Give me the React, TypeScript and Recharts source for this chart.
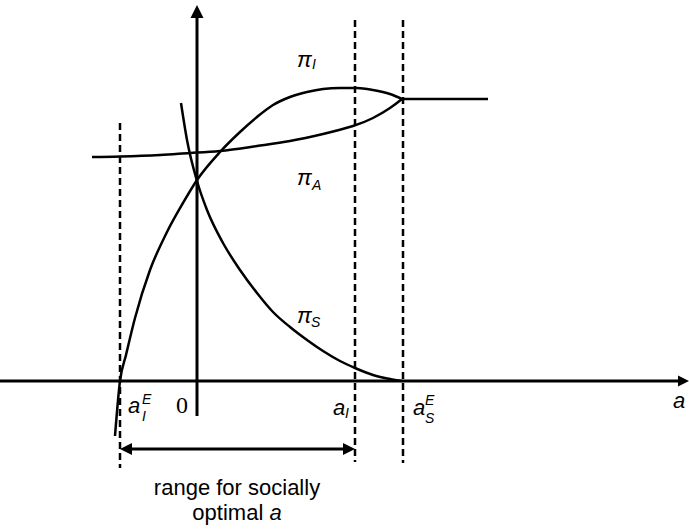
import React from "react";
import { ComposedChart, Line, XAxis, YAxis, ReferenceLine, ReferenceDot } from "recharts";

// curve points (x = effort a, y = payoff)
const piI = [
  { x: -8.2, y: -5.5 }, { x: -7.7, y: 0 }, { x: -7.1, y: 2.6 }, { x: -6.2, y: 6.3 },
  { x: -4.7, y: 11.1 }, { x: -3.0, y: 14.9 }, { x: -1.4, y: 17.8 }, { x: 0, y: 20.1 },
  { x: 2.3, y: 22.9 }, { x: 4.3, y: 24.9 }, { x: 6.0, y: 26.4 }, { x: 7.6, y: 27.6 },
  { x: 9.3, y: 28.4 }, { x: 11.0, y: 28.9 }, { x: 12.6, y: 29.2 }, { x: 14.3, y: 29.3 },
  { x: 16.0, y: 29.3 }, { x: 17.6, y: 29.1 }, { x: 19.3, y: 28.7 }, { x: 20.5, y: 28.2 },
];
const piA = [
  { x: -10.5, y: 22.4 }, { x: -7.7, y: 22.45 }, { x: -3.7, y: 22.6 }, { x: -0.7, y: 22.8 },
  { x: 2.3, y: 23.0 }, { x: 6.0, y: 23.5 }, { x: 9.3, y: 24.0 }, { x: 12.6, y: 24.7 },
  { x: 15.6, y: 25.5 }, { x: 17.6, y: 26.3 }, { x: 19.3, y: 27.3 }, { x: 20.5, y: 28.2 },
];
const piS = [
  { x: -1.6, y: 27.8 }, { x: -1.0, y: 24.1 }, { x: 0, y: 20.0 }, { x: 1.0, y: 17.1 },
  { x: 2.6, y: 13.8 }, { x: 4.3, y: 11.1 }, { x: 6.0, y: 8.8 }, { x: 7.6, y: 6.9 },
  { x: 9.3, y: 5.4 }, { x: 11.0, y: 4.1 }, { x: 12.6, y: 3.0 }, { x: 14.3, y: 2.0 },
  { x: 15.8, y: 1.3 }, { x: 17.6, y: 0.6 }, { x: 19.3, y: 0.2 }, { x: 20.5, y: 0 },
];
const flat = [{ x: 20.5, y: 28.2 }, { x: 29.1, y: 28.2 }];

const aIE = -7.7;
const aI = 15.8;
const aSE = 20.6;

const FONT = "'Liberation Sans', Arial, sans-serif";

function ArrowSeg(props: any) {
  const { x1, y1, x2, y2, startHead, endHead, width = 2.5, head = 12, half = 6 } = props;
  const dx = x2 - x1;
  const dy = y2 - y1;
  const len = Math.sqrt(dx * dx + dy * dy) || 1;
  const ux = dx / len;
  const uy = dy / len;
  const px = -uy;
  const py = ux;
  const tri = (tx: number, ty: number, dirx: number, diry: number) => {
    const bx = tx - dirx * head;
    const by = ty - diry * head;
    return `${tx},${ty} ${bx + px * half},${by + py * half} ${bx - px * half},${by - py * half}`;
  };
  const sx = startHead ? x1 + ux * (head - 1) : x1;
  const sy = startHead ? y1 + uy * (head - 1) : y1;
  const ex = endHead ? x2 - ux * (head - 1) : x2;
  const ey = endHead ? y2 - uy * (head - 1) : y2;
  return (
    <g>
      <line x1={sx} y1={sy} x2={ex} y2={ey} stroke="#000" strokeWidth={width} />
      {startHead && <polygon points={tri(x1, y1, -ux, -uy)} fill="#000" />}
      {endHead && <polygon points={tri(x2, y2, ux, uy)} fill="#000" />}
    </g>
  );
}

function MathLabel(props: any) {
  const { cx, cy, main, sub, sup, subDx = 14, subDy = 5, supDy = -9, serif, italic = true, size = 22 } = props;
  return (
    <g fill="#000">
      <text
        x={cx}
        y={cy}
        fontFamily={serif ? "'Liberation Serif', 'Times New Roman', serif" : FONT}
        fontStyle={italic ? "italic" : "normal"}
        fontSize={size}
      >
        {main}
      </text>
      {sub && (
        <text x={cx + subDx} y={cy + subDy} fontFamily={FONT} fontStyle="italic" fontSize={14}>
          {sub}
        </text>
      )}
      {sup && (
        <text x={cx + subDx} y={cy + supDy} fontFamily={FONT} fontStyle="italic" fontSize={14}>
          {sup}
        </text>
      )}
    </g>
  );
}

const dashed = { stroke: "#000", strokeWidth: 2.5, strokeDasharray: "7 4" };
const curve = { stroke: "#000", strokeWidth: 2.5, dot: false, activeDot: false, isAnimationActive: false };

export default function App() {
  return (
    <div style={{ position: "absolute", left: 0, top: 0, width: 689, height: 530, background: "#fff" }}>
      <ComposedChart width={689} height={530} margin={{ top: 0, right: 0, bottom: 0, left: 0 }}>
        <XAxis type="number" dataKey="x" domain={[-19.7, 49.2]} allowDataOverflow hide />
        <YAxis type="number" dataKey="y" domain={[-14.9, 38.1]} allowDataOverflow hide />

        <ReferenceLine ifOverflow="visible" segment={[{ x: aIE, y: 25.8 }, { x: aIE, y: -8.7 }]} {...dashed} />
        <ReferenceLine ifOverflow="visible" segment={[{ x: aI, y: 36.1 }, { x: aI, y: -8.1 }]} {...dashed} />
        <ReferenceLine ifOverflow="visible" segment={[{ x: aSE, y: 36.1 }, { x: aSE, y: -8.2 }]} {...dashed} />

        <ReferenceLine
          ifOverflow="visible"
          segment={[{ x: -19.7, y: 0 }, { x: 49.2, y: 0 }]}
          shape={(p: any) => <ArrowSeg {...p} endHead width={3} head={11} half={5.5} />}
        />
        <ReferenceLine
          ifOverflow="visible"
          segment={[{ x: 0, y: -3.5 }, { x: 0, y: 37.6 }]}
          shape={(p: any) => <ArrowSeg {...p} endHead width={3} head={13} half={6.5} />}
        />
        <ReferenceLine
          ifOverflow="visible"
          segment={[{ x: aIE, y: -6.8 }, { x: aI, y: -6.8 }]}
          shape={(p: any) => <ArrowSeg {...p} startHead endHead width={3} head={12} half={6} />}
        />

        <Line data={piI} dataKey="y" type="monotone" {...curve} />
        <Line data={piA} dataKey="y" type="natural" {...curve} />
        <Line data={piS} dataKey="y" type="monotone" {...curve} />
        <Line data={flat} dataKey="y" type="linear" {...curve} />

        <ReferenceDot x={10.0} y={31.4} shape={(p: any) => <MathLabel {...p} main="π" sub="I" subDx={15} subDy={2} />} />
        <ReferenceDot x={10.0} y={19.6} shape={(p: any) => <MathLabel {...p} main="π" sub="A" subDx={15} subDy={5} />} />
        <ReferenceDot x={10.0} y={5.8} shape={(p: any) => <MathLabel {...p} main="π" sub="S" subDx={14} subDy={4} />} />
        <ReferenceDot x={-6.9} y={-3.2} shape={(p: any) => <MathLabel {...p} main="a" sub="I" sup="E" subDx={14} subDy={8} supDy={-9} />} />
        <ReferenceDot x={-2.1} y={-3.2} shape={(p: any) => <MathLabel {...p} main="0" serif italic={false} size={24} />} />
        <ReferenceDot x={13.6} y={-3.4} shape={(p: any) => <MathLabel {...p} main="a" sub="I" subDx={12} subDy={3} />} />
        <ReferenceDot x={21.6} y={-3.4} shape={(p: any) => <MathLabel {...p} main="a" sub="S" sup="E" subDx={12} subDy={8} supDy={-10} />} />
        <ReferenceDot x={47.6} y={-2.7} shape={(p: any) => <MathLabel {...p} main="a" />} />
        <ReferenceDot
          x={4.0}
          y={-11.4}
          shape={(p: any) => (
            <text x={p.cx} y={p.cy} textAnchor="middle" fontFamily={FONT} fontSize={22} fill="#000">
              <tspan x={p.cx}>range for socially</tspan>
              <tspan x={p.cx} dy={25}>optimal </tspan>
              <tspan fontStyle="italic">a</tspan>
            </text>
          )}
        />
      </ComposedChart>
    </div>
  );
}
